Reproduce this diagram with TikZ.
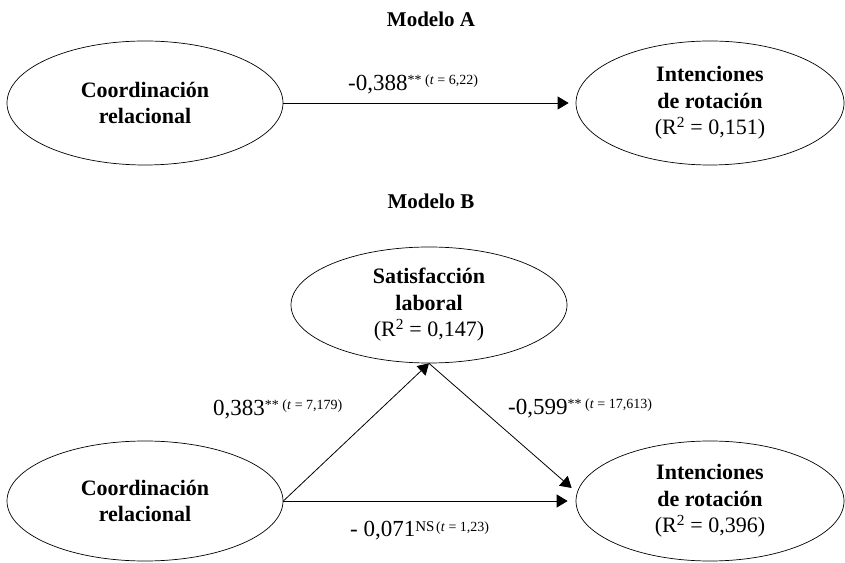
\documentclass[tikz,border=0pt]{standalone}
\usepackage{fontspec}
\setmainfont{Liberation Serif}
\usetikzlibrary{shapes.geometric,arrows.meta,calc}
\newcommand\pathlbl[3]{{\fontsize{23}{27}\selectfont #1}\raisebox{6.5pt}{\fontsize{14}{16}\selectfont #2\ (\textit{t} = #3)}}
\begin{document}
\begin{tikzpicture}[x=1pt,y=1pt,
  latent/.style={ellipse, draw, line width=0.7pt, inner sep=0pt,
    minimum width=276pt, minimum height=124pt, align=center,
    font=\fontsize{22}{26.5}\selectfont},
  latentr/.style={latent, minimum width=268pt},
  title/.style={font=\fontsize{21}{25}\selectfont\bfseries},
  edgelbl/.style={anchor=base west, inner sep=0pt},
  arr/.style={-{Triangle[length=11pt,width=13pt]}, line width=0.8pt}
]
\useasboundingbox (0,0) rectangle (845,562);
% Modelo A
\node[title] (tA) at (431,542.5) {Modelo A};
\node[latent] (Al) at (145,459) {\textbf{Coordinación}\\\textbf{relacional}};
\node[latentr] (Ar) at (710,459) {\textbf{Intenciones}\\\textbf{de rotación}\\(R\textsuperscript{2} = 0,151)};
\draw[arr, shorten >=7pt] (Al.east) -- (Ar.west);
\node[edgelbl] (lA) at (348,471.3) {\pathlbl{-0,388}{**}{6,22}};
% Modelo B
\node[title] (tB) at (431,360.5) {Modelo B};
\node[latent, minimum height=116pt] (Bt) at (429,257) {\textbf{Satisfacción}\\\textbf{laboral}\\(R\textsuperscript{2} = 0,147)};
\node[latent, minimum height=120pt] (Bl) at (145,61) {\textbf{Coordinación}\\\textbf{relacional}};
\node[latentr, minimum height=120pt] (Br) at (710,61) {\textbf{Intenciones}\\\textbf{de rotación}\\(R\textsuperscript{2} = 0,396)};
\coordinate (BrIn) at ($(Br.west)+(-4,13)$);
\draw[arr] (Bl.east) -- (Bt.south);
\draw[arr] (Bt.south) -- (BrIn);
\draw[arr, line width=1pt, shorten >=8pt] (Bl.east) -- (Br.west);
\node[edgelbl] (lB1) at (213,146) {\pathlbl{0,383}{**}{7,179}};
\node[edgelbl] (lB2) at (508,147) {\pathlbl{-0,599}{**}{17,613}};
\node[edgelbl] (lB3) at (350,25.3) {{\fontsize{23}{27}\selectfont - 0,071}\raisebox{5pt}{{\fontsize{15}{17}\selectfont NS}\,{\fontsize{14}{16}\selectfont(\textit{t} = 1,23)}}};
\end{tikzpicture}
\end{document}
